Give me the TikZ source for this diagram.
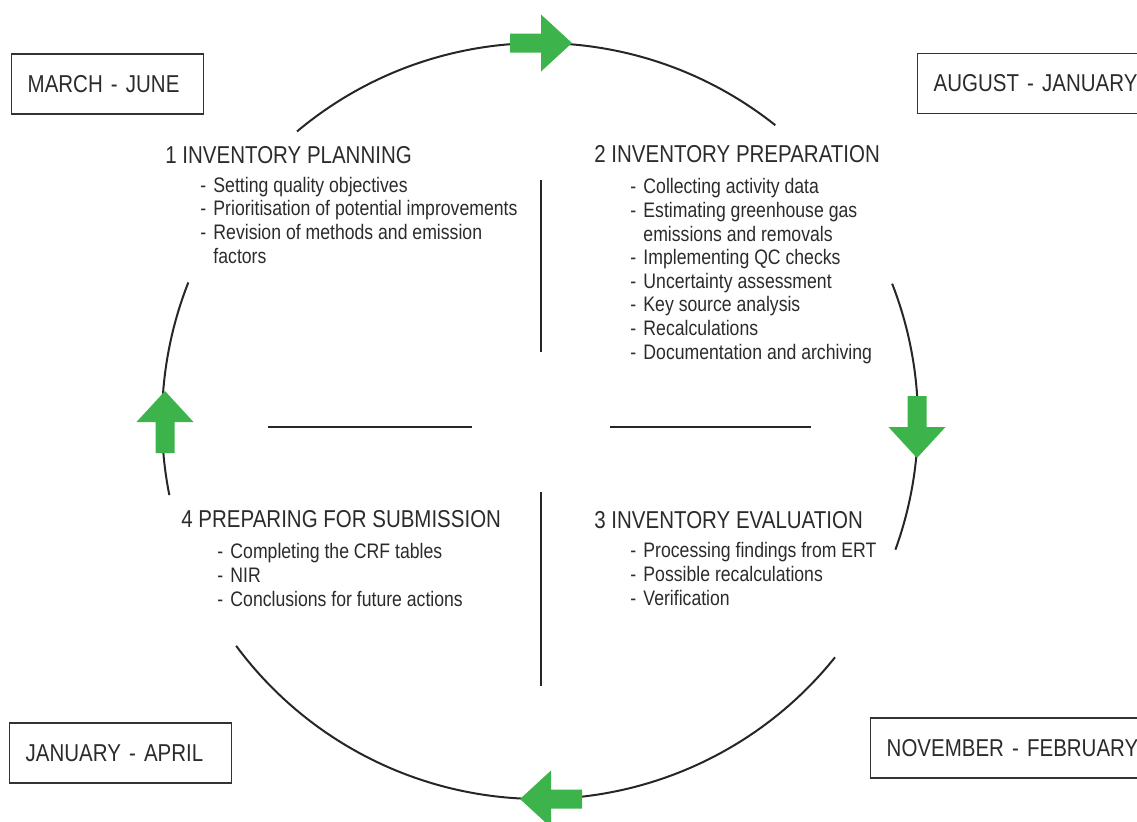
\documentclass[tikz,border=0pt]{standalone}
\usepackage{fontspec}
\setmainfont{Liberation Sans}[FakeStretch=0.84]
\definecolor{arrowgreen}{HTML}{3CB44B}
\definecolor{labelgray}{HTML}{2B2B2B}
\newcommand\listdash{-\hspace{3.6pt}}
\newcommand\listgap{\phantom{\listdash}}
\tikzset{
  phasetitle/.style={anchor=base west, inner sep=0pt, text=labelgray, font=\fontsize{12.2}{14}\selectfont},
  phaselist/.style={anchor=base west, inner sep=0pt, align=left, text=labelgray, font=\fontsize{10.5}{11.8}\selectfont},
  periodbox/.style={draw=black!80, line width=0.7pt, anchor=west, minimum height=30pt, inner xsep=8pt, align=left, text=labelgray, font=\fontsize{12.2}{14}\selectfont},
  cycleline/.style={line width=1pt, black!85},
  crossline/.style={line width=0.9pt, black!85},
  flowarrow/.pic={\fill[arrowgreen] (-31,-9.5) -- (0,-9.5) -- (0,-28.5) -- (31,0) -- (0,28.5) -- (0,9.5) -- (-31,9.5) -- cycle;}
}
\begin{document}
\begin{tikzpicture}[x=0.5pt, y=-0.5pt]
\useasboundingbox (0,0) rectangle (1137,821);
\coordinate (c) at (540,421);

% Circle
\draw[cycleline] (c) ++(-130:378) arc[start angle=-130, end angle=-51.5, radius=378];
\draw[cycleline] (c) ++(-21.3:378) arc[start angle=-21.3, end angle=19.9, radius=378];
\draw[cycleline] (c) ++(38.7:378) arc[start angle=38.7, end angle=143.5, radius=378];
\draw[cycleline] (c) ++(168.7:378) arc[start angle=168.7, end angle=201.5, radius=378];

% Arrows
\pic at (541,43) {flowarrow};
\pic[rotate=-90] at (917,427) {flowarrow};
\pic[rotate=180] at (551,799) {flowarrow};
\pic[rotate=90] at (165,422) {flowarrow};

% Cross
\draw[crossline] (541,180) -- (541,352);
\draw[crossline] (541,492) -- (541,686);
\draw[crossline] (268,427) -- (472,427);
\draw[crossline] (610,427) -- (811,427);

% Periods
\node[periodbox, text width=80pt] (mar jun) at (11,84) {MARCH - JUNE};
\node[periodbox, text width=110pt] (aug jan) at (917,83.5) {AUGUST - JANUARY};
\node[periodbox, text width=95pt] (jan apr) at (9,753) {JANUARY - APRIL};
\node[periodbox, text width=130pt] (nov feb) at (870,748) {NOVEMBER - FEBRUARY};

% 1 Planning (anchored at last line)
\node[phasetitle] (plan title) at (165,163) {1 INVENTORY PLANNING};
\node[phaselist] (plan list) at (200,263)
{\listdash Setting quality objectives\\\listdash Prioritisation of potential improvements\\\listdash Revision of methods and emission\\\listgap factors};

% 2 Preparation
\node[phasetitle] (prep title) at (594,162) {2 INVENTORY PREPARATION};
\node[phaselist] (prep list) at (630,359)
{\listdash Collecting activity data\\\listdash Estimating greenhouse gas\\\listgap emissions and removals\\\listdash Implementing QC checks\\\listdash Uncertainty assessment\\\listdash Key source analysis\\\listdash Recalculations\\\listdash Documentation and archiving};

% 3 Evaluation
\node[phasetitle] (eval title) at (594,528) {3 INVENTORY EVALUATION};
\node[phaselist] (eval list) at (630,605)
{\listdash Processing findings from ERT\\\listdash Possible recalculations\\\listdash Verification};

% 4 Submission
\node[phasetitle] (subm title) at (181,527) {4 PREPARING FOR SUBMISSION};
\node[phaselist] (subm list) at (217,606)
{\listdash Completing the CRF tables\\\listdash NIR\\\listdash Conclusions for future actions};
\end{tikzpicture}
\end{document}
